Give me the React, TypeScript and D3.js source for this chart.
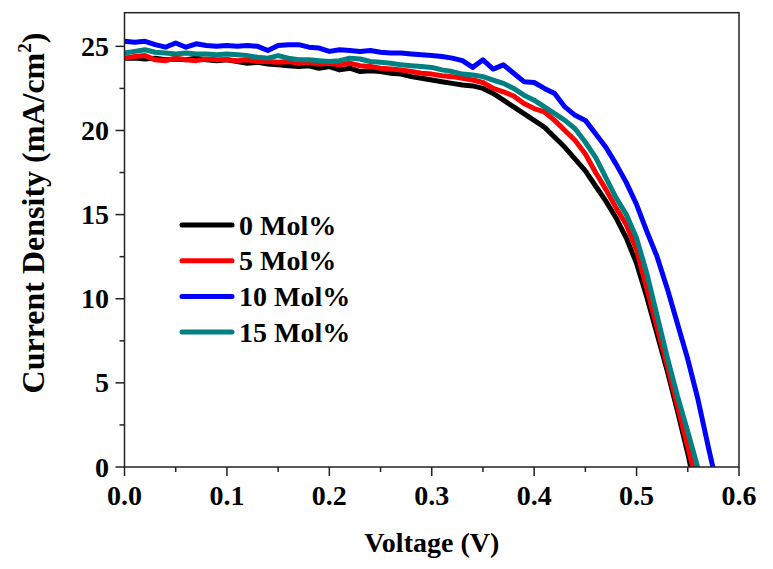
import React from "react";
import * as d3 from "d3";

const voltage = [
  0.0, 0.01, 0.02, 0.03, 0.04, 0.05, 0.06, 0.07, 0.08, 0.09,
  0.1, 0.11, 0.12, 0.13, 0.14, 0.15, 0.16, 0.17, 0.18, 0.19,
  0.2, 0.21, 0.22, 0.23, 0.24, 0.25, 0.26, 0.27, 0.28, 0.29,
  0.3, 0.31, 0.32, 0.33, 0.34, 0.35, 0.36, 0.37, 0.38, 0.39,
  0.4, 0.41, 0.42, 0.43, 0.44, 0.45, 0.46, 0.47, 0.48, 0.49,
  0.5, 0.51, 0.52, 0.53, 0.54, 0.55, 0.56, 0.57, 0.58,
];

const mol0 = [
  24.3, 24.3, 24.25, 24.3, 24.2, 24.25, 24.2, 24.3, 24.2, 24.15,
  24.2, 24.1, 24.0, 24.05, 23.95, 23.9, 23.85, 23.8, 23.85, 23.7,
  23.8, 23.6, 23.7, 23.5, 23.55, 23.5, 23.4, 23.35, 23.2, 23.1,
  23.0, 22.9, 22.8, 22.7, 22.65, 22.5, 22.2, 21.8, 21.4, 21.0,
  20.6, 20.2, 19.6, 19.0, 18.3, 17.6, 16.7, 15.8, 14.8, 13.6,
  12.1, 10.1, 7.9, 5.7, 3.3, 0.8, -2.0, null, null,
];

const mol5 = [
  24.3, 24.4, 24.45, 24.2, 24.15, 24.3, 24.2, 24.15, 24.25, 24.2,
  24.2, 24.15, 24.2, 24.1, 24.1, 24.05, 24.1, 24.0, 24.05, 23.95,
  24.0, 23.9, 24.0, 23.85, 23.8, 23.7, 23.65, 23.6, 23.5, 23.4,
  23.35, 23.25, 23.2, 23.1, 23.0, 22.85, 22.5, 22.3, 22.05, 21.6,
  21.3, 21.1, 20.6, 20.0, 19.4, 18.6, 17.5, 16.5, 15.4, 14.4,
  12.9, 10.6, 8.3, 6.0, 3.6, 1.2, -1.3, null, null,
];

const mol10 = [
  25.3, 25.25, 25.3, 25.1, 24.95, 25.2, 24.95, 25.15, 25.05, 25.0,
  25.05, 25.0, 25.05, 25.0, 24.75, 25.05, 25.1, 25.1, 24.95, 24.9,
  24.7, 24.8, 24.75, 24.7, 24.75, 24.65, 24.6, 24.6, 24.55, 24.5,
  24.45, 24.4, 24.3, 24.15, 23.75, 24.2, 23.65, 23.9, 23.4, 22.9,
  22.85, 22.5, 22.2, 21.4, 20.9, 20.6, 19.8, 19.0, 18.0, 16.9,
  15.6, 14.0, 12.5, 10.6, 8.5, 6.4, 4.0, 1.2, -1.5,
];

const mol15 = [
  24.6, 24.7, 24.8, 24.65, 24.6, 24.55, 24.6, 24.55, 24.55, 24.5,
  24.55, 24.5, 24.45, 24.35, 24.3, 24.45, 24.3, 24.2, 24.2, 24.15,
  24.1, 24.15, 24.3, 24.25, 24.1, 24.05, 24.0, 23.9, 23.85, 23.8,
  23.75, 23.6, 23.5, 23.35, 23.3, 23.2, 23.0, 22.8, 22.5, 22.1,
  21.8, 21.4, 21.0, 20.6, 20.1, 19.3, 18.4, 17.2, 16.0, 15.0,
  13.6, 11.5, 9.0, 6.5, 4.2, 2.1, -0.1, -2.0, null,
];

const seriesNames = ["0 Mol%", "5 Mol%", "10 Mol%", "15 Mol%"];
const seriesValues = [mol0, mol5, mol10, mol15];
const seriesColors = ["#000000", "#ff0000", "#0000ff", "#008080"];

const xTicks = [0.0, 0.1, 0.2, 0.3, 0.4, 0.5, 0.6];
const xMinor = [0.05, 0.15, 0.25, 0.35, 0.45, 0.55];
const yTicks = [0, 5, 10, 15, 20, 25];
const yMinor = [2.5, 7.5, 12.5, 17.5, 22.5];

const W = 773;
const H = 569;
const left = 124.5;
const right = 739;
const top = 12.7;
const bottom = 467;

export default function App() {
  const x = d3.scaleLinear().domain([0, 0.6]).range([left, right]);
  const y = d3.scaleLinear().domain([0, 27]).range([bottom, top]);
  const line = d3
    .line<number | null>()
    .defined((d) => d !== null)
    .x((_, i) => x(voltage[i]))
    .y((d) => y(d as number));

  const font = "'Liberation Serif', 'Times New Roman', Times, serif";
  const axisColor = "#222";

  return (
    <div style={{ position: "absolute", left: 0, top: 0 }}>
      <svg width={W} height={H} style={{ display: "block", background: "#fff" }}>
        <defs>
          <clipPath id="plotClip">
            <rect x={left} y={top} width={right - left} height={bottom - top} />
          </clipPath>
        </defs>
        <g clipPath="url(#plotClip)">
          {seriesValues.map((vals, k) => (
            <path
              key={k}
              d={line(vals) || ""}
              fill="none"
              stroke={seriesColors[k]}
              strokeWidth={5}
              strokeLinejoin="round"
            />
          ))}
        </g>
        <rect
          x={left}
          y={top}
          width={right - left}
          height={bottom - top}
          fill="none"
          stroke={axisColor}
          strokeWidth={1.5}
        />
        {xTicks.map((t) => (
          <g key={"xt" + t}>
            <line x1={x(t)} x2={x(t)} y1={bottom} y2={bottom + 9} stroke={axisColor} strokeWidth={1.5} />
            <text
              x={x(t)}
              y={504.5}
              textAnchor="middle"
              fontFamily={font}
              fontWeight="bold"
              fontSize={28}
              fill="#000"
            >
              {t.toFixed(1)}
            </text>
          </g>
        ))}
        {xMinor.map((t) => (
          <line key={"xm" + t} x1={x(t)} x2={x(t)} y1={bottom} y2={bottom + 5} stroke={axisColor} strokeWidth={1.5} />
        ))}
        {yTicks.map((t) => (
          <g key={"yt" + t}>
            <line x1={left - 9} x2={left} y1={y(t)} y2={y(t)} stroke={axisColor} strokeWidth={1.5} />
            <text
              x={109}
              y={y(t) + 9.5}
              textAnchor="end"
              fontFamily={font}
              fontWeight="bold"
              fontSize={28}
              fill="#000"
            >
              {t}
            </text>
          </g>
        ))}
        {yMinor.map((t) => (
          <line key={"ym" + t} x1={left - 5} x2={left} y1={y(t)} y2={y(t)} stroke={axisColor} strokeWidth={1.5} />
        ))}
        <text
          x={(left + right) / 2}
          y={552}
          textAnchor="middle"
          fontFamily={font}
          fontWeight="bold"
          fontSize={28}
          fill="#000"
        >
          Voltage (V)
        </text>
        <text
          transform={`translate(44, 213) rotate(-90)`}
          textAnchor="middle"
          fontFamily={font}
          fontWeight="bold"
          fontSize={32}
          fill="#000"
        >
          Current Density (mA/cm
          <tspan fontSize={19} dy={-13}>2</tspan>
          <tspan dy={13}>)</tspan>
        </text>
        {seriesNames.map((name, k) => {
          const ly = 225 + k * 35.7;
          return (
            <g key={"lg" + k}>
              <line
                x1={182}
                x2={232}
                y1={ly}
                y2={ly}
                stroke={seriesColors[k]}
                strokeWidth={5}
                strokeLinecap="round"
              />
              <text
                x={239}
                y={ly + 9.5}
                fontFamily={font}
                fontWeight="bold"
                fontSize={28}
                fill="#000"
              >
                {name}
              </text>
            </g>
          );
        })}
      </svg>
    </div>
  );
}
